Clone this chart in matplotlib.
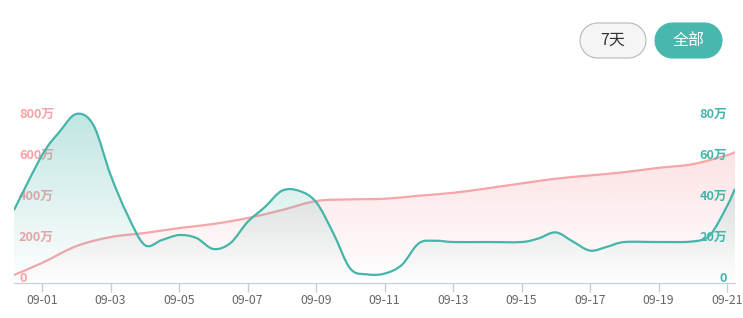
import matplotlib
matplotlib.use("Agg")
import matplotlib.pyplot as plt
import numpy as np
from matplotlib.path import Path
from matplotlib.patches import PathPatch, Polygon

plt.rcParams['font.family'] = ['Noto Sans CJK SC', 'DejaVu Sans']

# ---- data (x = days after 09-01) ----
tick_days = [0, 2, 4, 6, 8, 10, 12, 14, 16, 18, 20]
tick_labels = ['09-01', '09-03', '09-05', '09-07', '09-09', '09-11',
               '09-13', '09-15', '09-17', '09-19', '09-21']

# pink series, left axis (万)
pink_x = [-0.82, 0, 1, 2, 3, 4, 5, 6, 7, 8, 9, 10, 11, 12, 13, 14, 15, 16,
          17, 18, 19, 20, 20.23]
pink_y = [39, 98, 180, 224, 244, 268, 288, 317, 356, 400, 408, 411, 426,
          440, 462, 486, 509, 525, 541, 562, 580, 624, 639]

# teal series, right axis (万)
teal_x = [-0.82, 0, 0.5, 1, 1.5, 2, 2.5, 3, 3.5, 4, 4.5, 5, 5.5, 6, 6.5,
          7, 7.5, 8, 8.5, 9, 9.5, 10, 10.5, 11, 11.5, 12, 13, 14, 14.5, 15,
          15.5, 16, 16.5, 17, 18, 19, 19.5, 20, 20.23]
teal_y = [35.6, 62.4, 73.6, 82.5, 77, 52.7, 33, 18.5, 21, 23.4, 22, 16.6,
          19.5, 29.8, 37, 45, 45, 39.5, 24.4, 7, 4.2, 4.6, 8.8, 19.4, 20.6,
          20, 20, 20, 21.8, 24.7, 20.2, 15.8, 17.7, 20, 20, 20.3, 23.4,
          37.6, 46]

left_ticks = [0, 200, 400, 600, 800]
right_ticks = [0, 20, 40, 60, 80]

pink = '#f6a5a9'
teal = '#45b5aa'
x_min, x_max = -0.82, 20.23


def smooth_path(xs, ys, close_to=None):
    p = np.column_stack([xs, ys]).astype(float)
    n = len(p)
    verts = [p[0]]
    codes = [Path.MOVETO]
    for i in range(n - 1):
        p0 = p[max(i - 1, 0)]
        p1 = p[i]
        p2 = p[i + 1]
        p3 = p[min(i + 2, n - 1)]
        c1 = p1 + (p2 - p0) / 6.0
        c2 = p2 - (p3 - p1) / 6.0
        verts += [c1, c2, p2]
        codes += [Path.CURVE4] * 3
    if close_to is not None:
        verts += [(p[-1][0], close_to), (p[0][0], close_to), p[0]]
        codes += [Path.LINETO, Path.LINETO, Path.CLOSEPOLY]
    return Path(verts, codes)


def gradient_fill(ax, xs, ys, rgb, alpha_top):
    top = max(ys)
    img = np.zeros((256, 1, 4))
    img[..., :3] = rgb
    img[..., 3] = np.linspace(0, alpha_top, 256).reshape(-1, 1)
    im = ax.imshow(img, extent=[x_min, x_max, 0, top], origin='lower',
                   aspect='auto', zorder=1, interpolation='bilinear')
    im.set_clip_path(smooth_path(xs, ys, close_to=0), ax.transData)


fig = plt.figure(figsize=(7.43, 3.18), dpi=100)
W, H = 743, 318
ax = fig.add_axes([14 / W, (H - 283) / H, (735 - 14) / W, (283 - 100) / H])
ax2 = ax.twinx()

# pink on left axis
gradient_fill(ax, pink_x, pink_y, (246 / 255, 160 / 255, 166 / 255), 0.30)
ax.add_patch(PathPatch(smooth_path(pink_x, pink_y), fill=False,
                       edgecolor=pink, lw=1.6, zorder=3))
ax.set_ylim(0, 893)
ax.set_xlim(x_min, x_max)

# teal on right axis
gradient_fill(ax2, teal_x, teal_y, (69 / 255, 181 / 255, 170 / 255), 0.34)
ax2.add_patch(PathPatch(smooth_path(teal_x, teal_y), fill=False,
                        edgecolor=teal, lw=1.6, zorder=3))
ax2.set_ylim(0, 89.3)
ax2.set_xlim(x_min, x_max)

for a in (ax, ax2):
    for s in ('left', 'right', 'top'):
        a.spines[s].set_visible(False)
    a.spines['bottom'].set_color('#c3cedb')
    a.set_yticks([])
    a.set_facecolor('none')

ax.set_xticks(tick_days)
ax.set_xticklabels(tick_labels, fontsize=8.8, color='#666666')
ax.tick_params(axis='x', length=6.5, width=1, color='#c3cedb', pad=1.5)
ax2.tick_params(axis='x', length=0)

for v in left_ticks:
    lab = '0' if v == 0 else '%d万' % v
    ax.annotate(lab, xy=(0, v), xycoords=('axes fraction', 'data'),
                xytext=(5, 5), textcoords='offset pixels', ha='left', va='center',
                fontsize=9.2, fontweight='bold', color='#f7a2a6', zorder=5)
for v in right_ticks:
    lab = '0' if v == 0 else '%d万' % v
    ax2.annotate(lab, xy=(1, v), xycoords=('axes fraction', 'data'),
                 xytext=(-8, 5), textcoords='offset pixels', ha='right', va='center',
                 fontsize=9.2, fontweight='bold', color=teal, zorder=5)


# pill buttons (pixel coords, y from top)
def pill(x0, x1, y0, y1, text, fc, ec, tc):
    r = (y1 - y0) / 2.0
    cy = H - (y0 + y1) / 2.0
    t = np.linspace(-np.pi / 2, np.pi / 2, 40)
    u = np.linspace(np.pi / 2, 3 * np.pi / 2, 40)
    xs = np.concatenate([x1 - r + r * np.cos(t), x0 + r + r * np.cos(u)])
    ys = np.concatenate([cy + r * np.sin(t), cy + r * np.sin(u)])
    poly = Polygon(np.column_stack([xs / W, ys / H]), closed=True,
                   transform=fig.transFigure, facecolor=fc, edgecolor=ec, lw=0.8)
    fig.patches.append(poly)
    fig.text((x0 + x1) / 2 / W, cy / H, text, ha='center', va='center',
             fontsize=11.5, color=tc)


pill(580, 646, 23, 58, '7天', '#f5f5f5', '#b8b8b8', '#333333')
pill(655, 722, 23, 58, '全部', '#48b8ae', '#48b8ae', 'white')

fig.savefig('out.png', dpi=100)
